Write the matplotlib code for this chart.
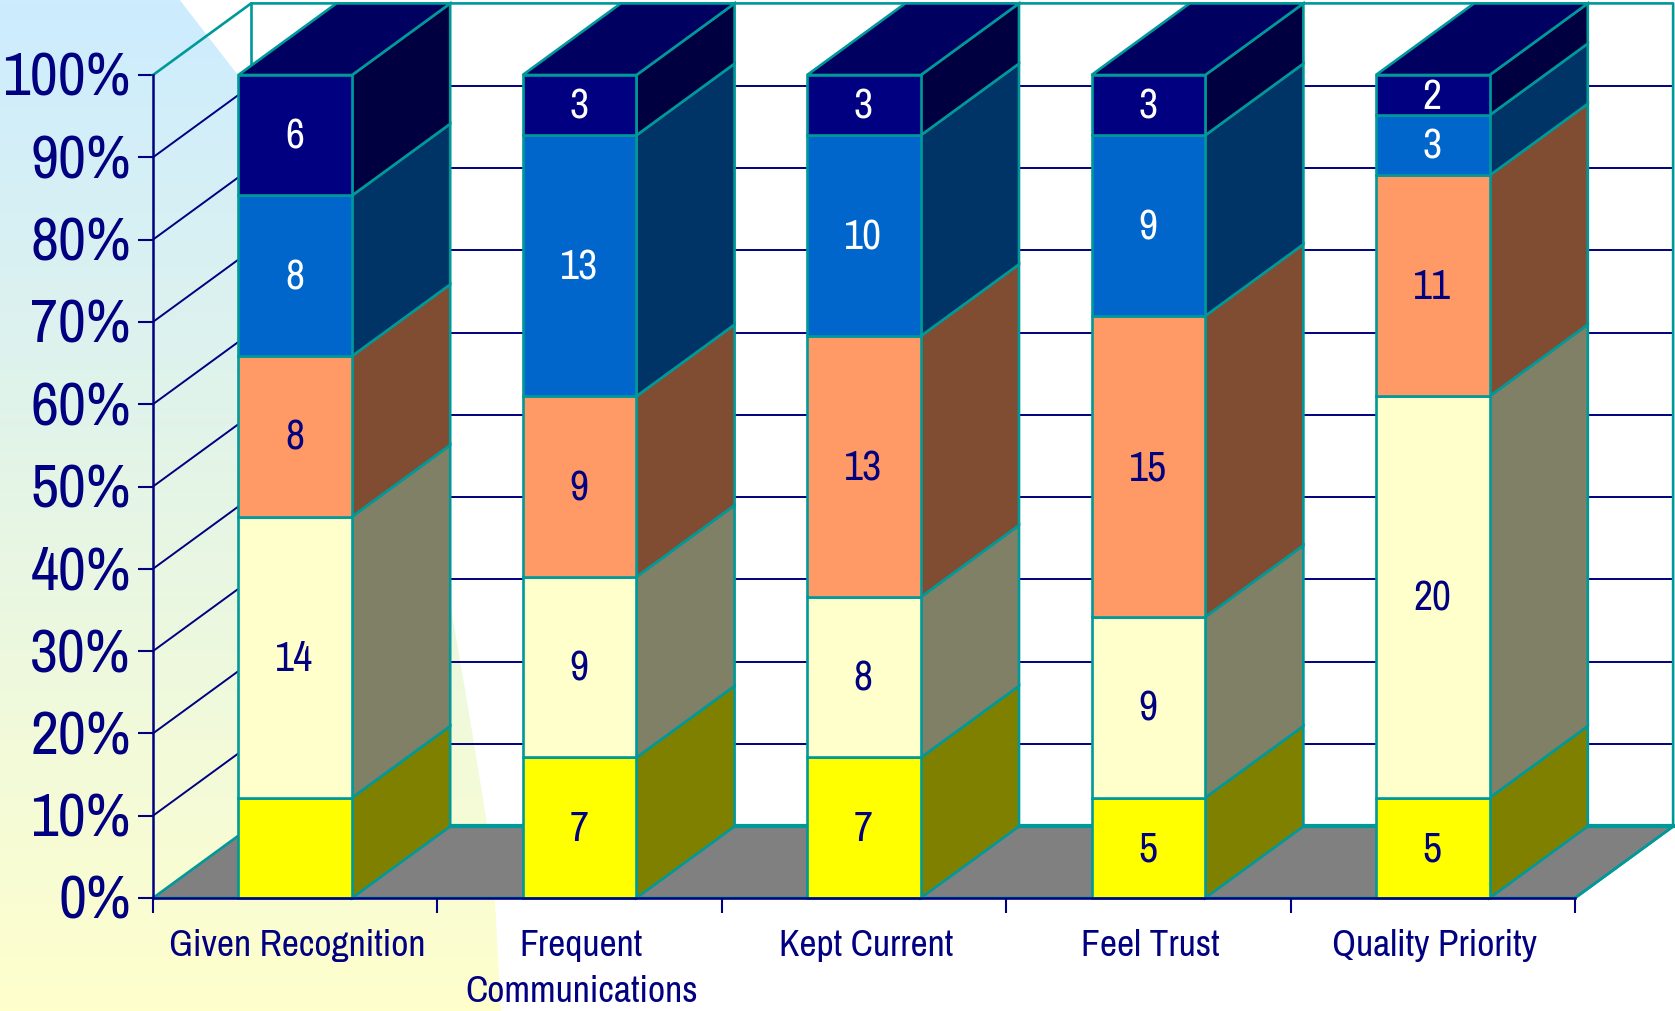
import numpy as np
import matplotlib
matplotlib.use("Agg")
import matplotlib.pyplot as plt
from matplotlib.patches import Polygon
from matplotlib.colors import LinearSegmentedColormap
from matplotlib.transforms import ScaledTranslation

plt.rcParams['font.family'] = ['Archivo Narrow', 'PT Sans Narrow', 'Liberation Sans', 'DejaVu Sans']

categories = ['Given Recognition', 'Frequent\nCommunications', 'Kept Current', 'Feel Trust', 'Quality Priority']

# counts per category, bottom of the stack first
level1 = [5, 7, 7, 5, 5]
level2 = [14, 9, 8, 9, 20]
level3 = [8, 9, 13, 15, 11]
level4 = [8, 13, 10, 9, 3]
level5 = [6, 3, 3, 3, 2]
series = [level1, level2, level3, level4, level5]

face_colors = ['#FFFF00', '#FFFFCC', '#FF9966', '#0066CC', '#000080']
side_colors = ['#808000', '#808066', '#804D33', '#003366', '#000040']
text_colors = ['#000080', '#000080', '#000080', '#FFFFFF', '#FFFFFF']
top_color = '#000060'

NAVY = '#000080'
TEAL = '#009999'
FLOOR = '#808080'

# depth of the box, in axis units
DX = 0.345
DY = 8.7
BAR_W = 0.4

W, H = 1675, 1012
fig = plt.figure(figsize=(W / 100, H / 100), dpi=100, facecolor='white')

# slide background: vertical gradient inside a curved shape
edge_x = [179, 237, 300, 370, 420, 450, 470, 487, 495, 501]
edge_y = [0, 75, 170, 320, 470, 603, 720, 825, 903, 1012]
bg = fig.add_axes([0, 0, 1, 1], zorder=0)
cmap = LinearSegmentedColormap.from_list('bg', ['#CCECFF', '#FFFFCC'])
grad = np.linspace(0, 1, 256).reshape(-1, 1)
im = bg.imshow(grad, cmap=cmap, extent=[0, W, H, 0], aspect='auto')
bg.set_xlim(0, W)
bg.set_ylim(H, 0)
bg.axis('off')
clip = Polygon(list(zip([0] + edge_x + [0], [0] + edge_y + [H])), closed=True,
               transform=bg.transData, fc='none', ec='none')
bg.add_patch(clip)
im.set_clip_path(clip)

ax = fig.add_axes([153 / W, (H - 899) / H, 1422 / W, 823 / H], zorder=1)
ax.patch.set_alpha(0)
ax.set_xlim(0, 5)
ax.set_ylim(0, 100)

n = len(categories)


def add_poly(pts, fc, ec=TEAL, lw=1.9, z=3):
    ax.add_patch(Polygon(pts, closed=True, fc=fc, ec=ec, lw=lw, zorder=z, clip_on=False, joinstyle='miter'))


# floor
add_poly([(0, 0), (n, 0), (n + DX, DY), (DX, DY)], FLOOR, lw=1.9, z=1.5)
ax.plot([DX, n + DX], [DY, DY], color=TEAL, lw=3, zorder=1.6, clip_on=False)

# walls and gridlines
for pct in range(10, 100, 10):
    ax.plot([0, DX], [pct, pct + DY], color=NAVY, lw=1.4, zorder=2, clip_on=False)
    ax.plot([DX, n + DX], [pct + DY, pct + DY], color=NAVY, lw=1.4, zorder=2, clip_on=False)
ax.plot([0, DX, n + DX, n + DX], [100, 100 + DY, 100 + DY, DY], color=TEAL, lw=1.9, zorder=2.1, clip_on=False)
ax.plot([DX, DX], [DY, 100 + DY], color=TEAL, lw=1.9, zorder=2.1, clip_on=False)
ax.plot([n, n + DX], [0, DY], color=TEAL, lw=1.9, zorder=2.1, clip_on=False)

# stacked boxes
totals = np.sum(series, axis=0)
for i in range(n):
    left = i + 0.5 - BAR_W / 2
    right = left + BAR_W
    base = 0.0
    for s, values in enumerate(series):
        pct = 100.0 * values[i] / totals[i]
        topv = base + pct
        add_poly([(right, base), (right + DX, base + DY), (right + DX, topv + DY), (right, topv)], side_colors[s])
        add_poly([(left, base), (right, base), (right, topv), (left, topv)], face_colors[s], z=3.2)
        # first box of the first category has no number on it
        if not (i == 0 and s == 0):
            ax.text((left + right) / 2 - 0.003, (base + topv) / 2 + 0.35, str(values[i]), color=text_colors[s],
                    fontsize=30, ha='center', va='center_baseline', zorder=5)
        base = topv
    add_poly([(left, 100), (right, 100), (right + DX, 100 + DY), (left + DX, 100 + DY)], top_color)

# axes
for name in ['top', 'right']:
    ax.spines[name].set_visible(False)
for name in ['left', 'bottom']:
    ax.spines[name].set_color(NAVY)
    ax.spines[name].set_linewidth(1.8)
    ax.spines[name].set_zorder(6)

ax.set_yticks(np.arange(0, 101, 10))
ax.set_yticklabels([f'{p}%' for p in range(0, 101, 10)], fontsize=44, color=NAVY)
ax.tick_params(axis='y', length=11, width=1.5, color=NAVY, pad=5)

ax.set_xticks(np.arange(0, n + 1))
ax.set_xticklabels([])
ax.tick_params(axis='x', which='major', length=10.5, width=1.5, color=NAVY)
ax.set_xticks(np.arange(n) + 0.5, minor=True)
ax.set_xticklabels(categories, minor=True, fontsize=27, color=NAVY, linespacing=1.47, va='top')
ax.tick_params(axis='x', which='minor', length=0, pad=21.5)

# small nudges for the tick labels
for lab in ax.get_yticklabels():
    lab.set_transform(lab.get_transform() + ScaledTranslation(0, 1.5 / 72, fig.dpi_scale_trans))
for lab in ax.get_xticklabels(minor=True):
    lab.set_transform(lab.get_transform() + ScaledTranslation(1.2 / 72, 0, fig.dpi_scale_trans))

fig.savefig('out.png', dpi=100)
